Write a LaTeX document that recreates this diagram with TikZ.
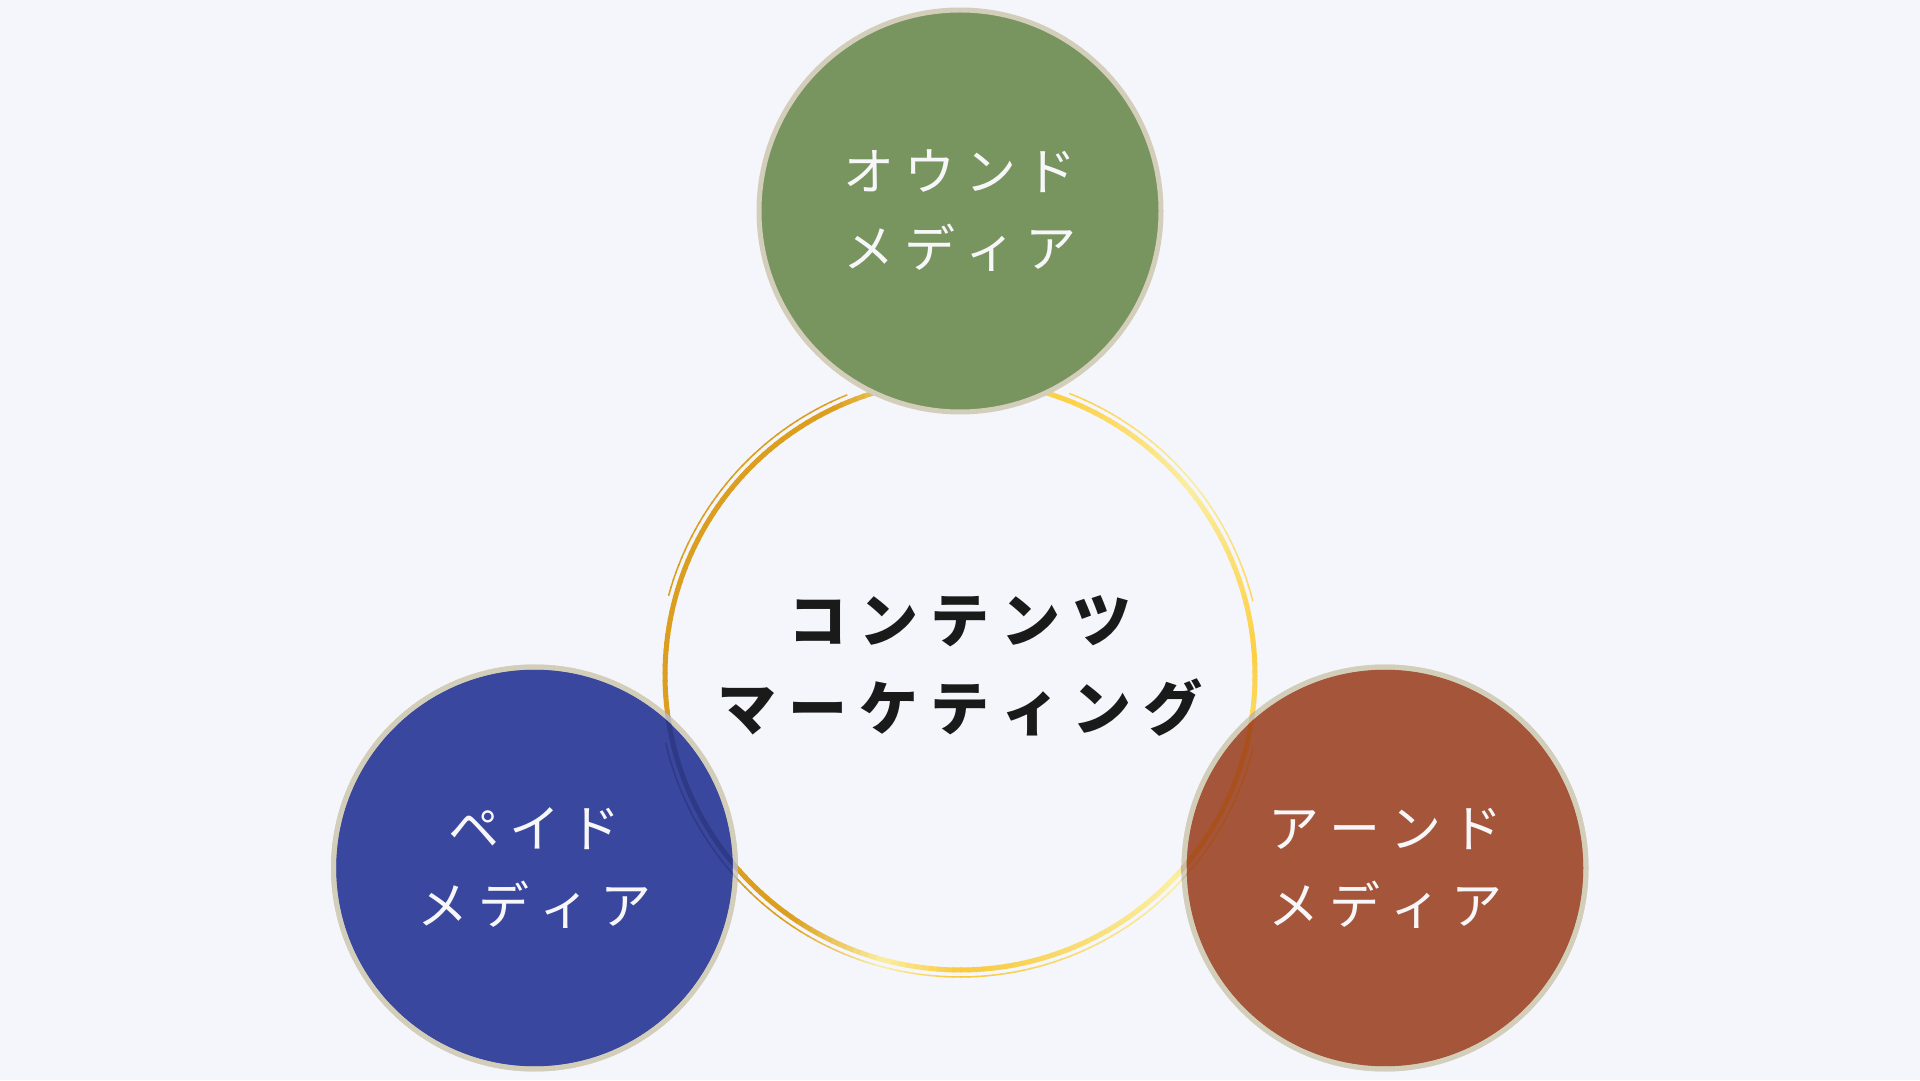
\documentclass[tikz,border=0pt]{standalone}
\usepackage{fontspec}
\newfontfamily\jpfont{Noto Sans CJK JP}
\usetikzlibrary{calc}
\definecolor{bg}{HTML}{F4F6FB}
\definecolor{gd}{HTML}{DC9E1E}
\definecolor{pl}{HTML}{FBEEA2}
\definecolor{yc}{HTML}{FCD045}
\definecolor{yb}{HTML}{F9C93A}
\definecolor{rim}{HTML}{D3CEBA}
\definecolor{grn}{HTML}{78945F}
\definecolor{blu}{HTML}{39479E}
\definecolor{org}{HTML}{A5563A}
\definecolor{bluring}{HTML}{2F3A86}
\definecolor{orgring}{HTML}{A9501F}
\definecolor{ink}{HTML}{1A1A1A}
\definecolor{wt}{HTML}{F7F7F9}
\def\g{\kern10pt}
\def\h{\kern12pt}
\begin{document}
\begin{tikzpicture}[x=1pt,y=1pt,
  media/.style={circle, minimum size=402pt, inner sep=0pt, draw=rim, line width=5pt,
    text=wt, align=center, font=\jpfont\fontsize{51}{77}\selectfont},
  rimline/.style={draw=rim, line width=5pt, opacity=0.85},
  title/.style={text=ink, align=center, font=\jpfont\bfseries\fontsize{59}{88}\selectfont}]
\fill[bg] (0,0) rectangle (1920,1080);
\useasboundingbox (0,0) rectangle (1920,1080);
\coordinate (C) at (960,405);
% gradient ring
\foreach \a/\ca/\b/\cb in {-90/yb/-45/pl, -45/pl/5/yc, 5/yc/40/pl, 40/pl/70/yc, 70/yc/95/pl, 95/pl/115/gd, 115/gd/235/gd, 235/gd/255/pl, 255/pl/270/yb}{
  \pgfmathtruncatemacro\n{max(1,round((\b-\a)/1.5))}
  \foreach \i in {1,...,\n}{
    \pgfmathsetmacro\s{\a+(\i-1)*(\b-\a)/\n}
    \pgfmathsetmacro\e{\a+\i*(\b-\a)/\n+0.3}
    \pgfmathsetmacro\p{100*(\i-0.5)/\n}
    \colorlet{segc}{\cb!\p!\ca}
    \draw[segc, line width=5pt] ($(C)+(\s:295pt)$) arc[start angle=\s, end angle=\e, radius=295pt];
    \pgfmathsetmacro\m{(\s+\e)/2}
    \pgfmathtruncatemacro\ok{((\m>-14 && \m<14) || (\m>68 && \m<112) || (\m>165 && \m<193)) ? 0 : 1}
    \ifnum\ok=1
      \draw[segc, line width=1.5pt] ($(C)+(\s:302pt)$) arc[start angle=\s, end angle=\e, radius=302pt];
    \fi
  }
}
% title
\node[title] (title) at (960,414) {コ\h ン\h テ\h ン\h ツ\\マ\h ー\h ケ\h テ\h ィ\h ン\h グ};
% media circles
\node[media, fill=grn] (owned) at (960,869) {オ\g ウ\g ン\g ド\\メ\g デ\g ィ\g ア};
\node[media, fill=blu] (paid) at (534.5,212) {ペ\g イ\g ド\\メ\g デ\g ィ\g ア};
\node[media, fill=org] (earned) at (1385,212) {ア\g ー\g ン\g ド\\メ\g デ\g ィ\g ア};
% ring seen through the blue circle
\begin{scope}
  \clip (paid.center) circle[radius=203.5pt];
  \draw[bluring, line width=5pt] (C) circle[radius=295pt];
  \draw[bluring, line width=1.5pt] ($(C)+(193:302pt)$) arc[start angle=193, end angle=346, radius=302pt];
\end{scope}
\draw[rimline] (paid.center) circle[radius=201pt];
% ring seen through the orange circle
\begin{scope}
  \clip (earned.center) circle[radius=203.5pt];
  \draw[orgring, line width=5pt] (C) circle[radius=295pt];
  \draw[orgring, line width=1.5pt] ($(C)+(193:302pt)$) arc[start angle=193, end angle=346, radius=302pt];
\end{scope}
\draw[rimline] (earned.center) circle[radius=201pt];
\end{tikzpicture}
\end{document}
